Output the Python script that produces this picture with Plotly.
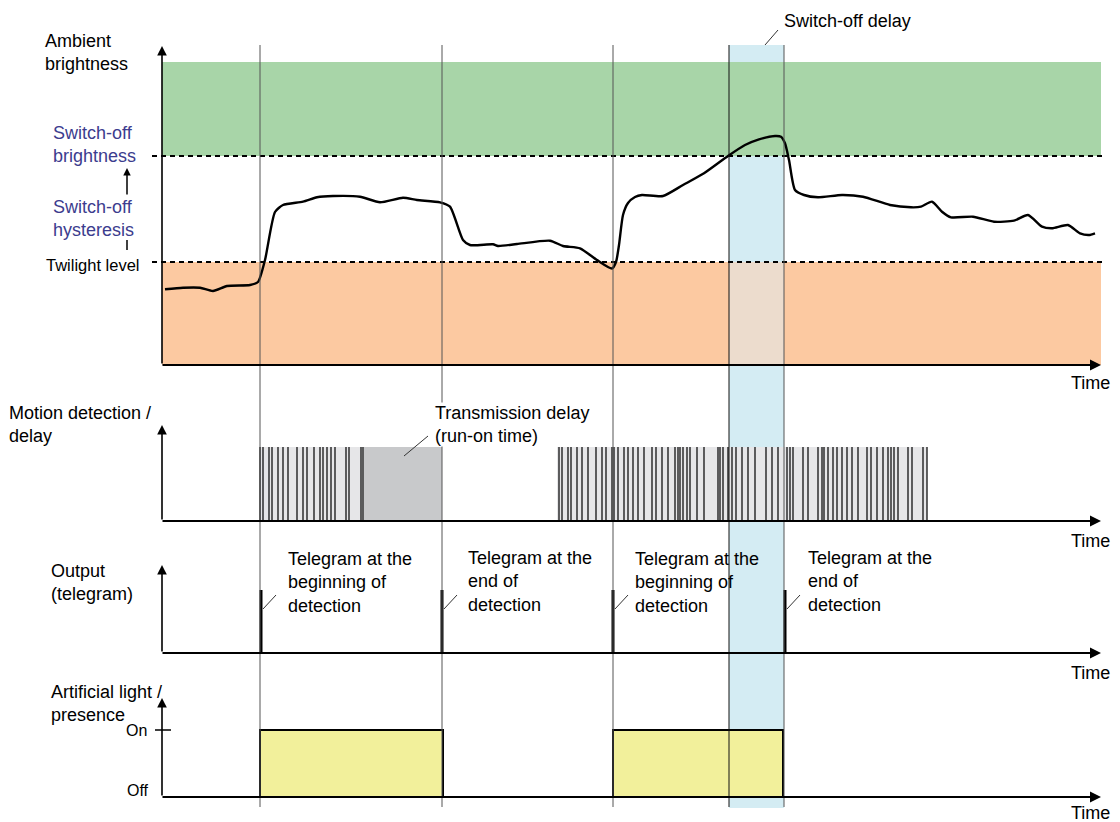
import plotly.graph_objects as go

W, H = 1120, 822
OFF = 8  # the page body adds an 8px margin
FONT = "Liberation Sans, Arial, sans-serif"
BLUE_TXT = "#3c3c8e"

# time units follow the horizontal scale of the diagram
event_times = [260, 442, 613, 729, 784]
delay_band = [729, 784]
time_end = 1101

# ambient brightness curve
brightness_t = [165, 183, 200, 213, 227, 250, 258, 265, 275, 283, 303, 317, 333, 360, 380,
                403, 417, 440, 450, 463, 470, 493, 498, 517, 550, 563, 580, 597, 612, 616,
                619, 623, 628, 635, 642, 663, 683, 704, 728, 745, 759, 775, 781, 785, 789,
                795, 804, 818, 842, 863, 890, 911, 921, 932, 942, 951, 973, 994, 1014, 1028,
                1042, 1052, 1068, 1080, 1089, 1095]
brightness_v = [75.7, 77.3, 77.3, 74, 79, 80, 83, 105, 153, 160, 163.3, 167.7, 169, 168.3, 162.7,
                167.3, 165, 162.7, 158.3, 125, 120, 120.7, 119, 121, 124.3, 119, 116.7, 105, 96.5, 103,
                120, 150, 162, 168, 170, 169, 180, 191.7, 209, 220, 225.7, 229, 228.3, 221.7, 205,
                175, 170, 167.7, 170, 168.3, 160, 157.7, 158.3, 163.3, 153.3, 147.7, 148.3, 143.3, 144.3, 150,
                138.3, 136.7, 140, 131.7, 130, 131.7]
twilight_level = 103
switch_off_level = 209
bright_top = 303

# motion detection
motion_blocks = [(260, 364), (557, 927)]
run_on = (364, 442)
motion_height = 74
motion_ticks = [260, 263, 269, 272, 278, 283, 288, 297, 303, 307, 314, 320, 323, 327, 331, 335,
                346, 349, 361, 363,
                559, 562, 568, 571, 577, 582, 588, 596, 602, 606, 612, 614, 618, 624, 628, 633,
                638, 644, 652, 656, 662, 668, 675, 678, 680, 683, 687, 690, 697, 704, 718, 720,
                723, 728, 732, 736, 742, 748, 755, 766, 772, 778, 787, 790, 793, 803, 808, 818,
                822, 824, 828, 833, 837, 842, 847, 852, 858, 867, 871, 877, 883, 888, 891, 894,
                898, 908, 912, 923, 927]

# telegrams
telegram_t = [261, 442, 613, 785]
telegram_height = 63
telegram_text = ["Telegram at the<br>beginning of<br>detection",
                 "Telegram at the<br>end of<br>detection",
                 "Telegram at the<br>beginning of<br>detection",
                 "Telegram at the<br>end of<br>detection"]

# artificial light
light_on = [(260, 443), (613, 783)]
on_level = 67


def px(x):
    return (x - OFF) / W


def py(y):
    return 1 - (y - OFF) / H


# panel layout: baseline pixel row, top and bottom of each y domain
panels = [(365, 8, 390), (521, 390, 545), (653, 545, 680), (797, 680, 830)]
ynames = ["y", "y2", "y3", "y4"]

fig = go.Figure()
layout = dict(width=W, height=H, margin=dict(l=0, r=0, t=0, b=0),
              plot_bgcolor="white", paper_bgcolor="white", showlegend=False,
              font=dict(family=FONT, size=18, color="black"),
              xaxis=dict(range=[OFF, W + OFF], domain=[0, 1], visible=False, fixedrange=True))
for i, (base, top, bot) in enumerate(panels):
    key = "yaxis" if i == 0 else f"yaxis{i+1}"
    layout[key] = dict(range=[base - bot, base - top], domain=[py(bot), py(top)],
                       visible=False, fixedrange=True)
fig.update_layout(**layout)

shapes = []
# brightness bands
shapes.append(dict(type="rect", xref="x", yref="y", x0=162, x1=time_end, y0=switch_off_level,
                   y1=bright_top, fillcolor="#a8d5a8", line_width=0, layer="below"))
shapes.append(dict(type="rect", xref="x", yref="y", x0=162, x1=time_end, y0=0,
                   y1=twilight_level, fillcolor="#fcc9a1", line_width=0, layer="below"))
# motion blocks
for a, b in motion_blocks:
    shapes.append(dict(type="rect", xref="x", yref="y2", x0=a, x1=b, y0=0, y1=motion_height,
                       fillcolor="#e6e6e8", line_width=0, layer="below"))
shapes.append(dict(type="rect", xref="x", yref="y2", x0=run_on[0], x1=run_on[1], y0=0,
                   y1=motion_height, fillcolor="#c8c9cb", line_width=0, layer="below"))
# switch-off delay band
shapes.append(dict(type="rect", xref="x", yref="paper", x0=delay_band[0], x1=delay_band[1],
                   y0=py(808), y1=py(45), fillcolor="rgba(183,223,235,0.6)", line_width=0,
                   layer="below"))
shapes.append(dict(type="rect", xref="x", yref="y", x0=delay_band[0], x1=delay_band[1], y0=0,
                   y1=twilight_level, fillcolor="#ecdccd", line_width=0, layer="below"))
# event lines
for t in event_times:
    shapes.append(dict(type="line", xref="x", yref="paper", x0=t, x1=t, y0=py(807), y1=py(45),
                       line=dict(color="#111" if t == 729 else "#555", width=1), layer="above"))
# leader lines
leaders = [(404, 456, 428, 436), (765, 45, 778, 30)]
for t in telegram_t:
    leaders.append((t + 2, 609, t + 15, 595))
for x0, y0, x1, y1 in leaders:
    shapes.append(dict(type="line", xref="paper", yref="paper", x0=px(x0), y0=py(y0),
                       x1=px(x1), y1=py(y1), line=dict(color="#333", width=1), layer="above"))
# hysteresis tick and On tick
shapes.append(dict(type="line", xref="paper", yref="paper", x0=px(127), x1=px(127),
                   y0=py(250), y1=py(240), line=dict(color="black", width=1.5)))
shapes.append(dict(type="line", xref="paper", yref="y4", x0=px(155), x1=px(171),
                   y0=on_level, y1=on_level, line=dict(color="black", width=1.5)))
fig.update_layout(shapes=shapes)

# brightness curve
fig.add_trace(go.Scatter(x=brightness_t, y=brightness_v, mode="lines", yaxis="y",
                         line=dict(color="black", width=2.4, shape="spline", smoothing=0.6)))
# threshold lines
for lv in [switch_off_level, twilight_level]:
    fig.add_trace(go.Scatter(x=[152, 1103], y=[lv, lv], mode="lines", yaxis="y",
                             line=dict(color="black", width=2.2, dash="5px,4px")))

# motion ticks
mx, my = [], []
for t in motion_ticks:
    mx += [t, t, None]
    my += [0, motion_height, None]
fig.add_trace(go.Scatter(x=mx, y=my, mode="lines", yaxis="y2",
                         line=dict(color="#111", width=1.3)))

# telegram pulses
tx, ty = [], []
for t in telegram_t:
    tx += [t, t, None]
    ty += [0, telegram_height, None]
fig.add_trace(go.Scatter(x=tx, y=ty, mode="lines", yaxis="y3",
                         line=dict(color="black", width=3)))

# light on boxes
for a, b in light_on:
    fig.add_trace(go.Scatter(x=[a, a, b, b, a], y=[0, on_level, on_level, 0, 0], mode="lines",
                             yaxis="y4", fill="toself", fillcolor="#f2f09b",
                             line=dict(color="black", width=2)))

ann = []
# axes with arrows
arrow_tops = [319, 96, 88, 99]
for i, yn in enumerate(ynames):
    ann.append(dict(x=162, y=arrow_tops[i], ax=162, ay=0, xref="x", yref=yn, axref="x",
                    ayref=yn, text="", showarrow=True, arrowhead=2, arrowsize=1.2,
                    arrowwidth=1.6, arrowcolor="black", standoff=0, startstandoff=0))
    ann.append(dict(x=time_end, y=0, ax=161, ay=0, xref="x", yref=yn, axref="x",
                    ayref=yn, text="", showarrow=True, arrowhead=2, arrowsize=1.1,
                    arrowwidth=2, arrowcolor="black", standoff=0, startstandoff=0))
# hysteresis arrow
ann.append(dict(x=px(127), y=py(168), ax=0, ay=28, xref="paper", yref="paper",
                text="", showarrow=True, arrowhead=2,
                arrowsize=1, arrowwidth=1.5, arrowcolor="black"))


def label(text, x, y, anchor="left", size=18, color="black", bg=None):
    d = dict(x=px(x), y=py(y), xref="paper", yref="paper", text=text, showarrow=False,
             xanchor=anchor, yanchor="middle", align=anchor if anchor != "center" else "center",
             font=dict(size=size, color=color, family=FONT), borderpad=0)
    if bg:
        d["bgcolor"] = bg
    ann.append(d)


label("Ambient<br>brightness", 44, 52)
label("Switch-off<br>brightness", 52, 145, color=BLUE_TXT)
label("Switch-off<br>hysteresis", 52, 218, color=BLUE_TXT)
label("Twilight level", 141, 265, anchor="right", size=16.5)
for yy in [383, 541, 673, 813]:
    label("Time", 1111, yy, anchor="right")
label("Switch-off delay", 783, 21)
label("Motion detection /<br>delay", 8, 424)
label("Transmission delay<br>(run-on time)", 434, 424, bg="white")
label("Output<br>(telegram)", 50, 582)
tel_x = [287, 467, 634, 807]
tel_y = [582, 581, 582, 581]
for t, x, y in zip(telegram_text, tel_x, tel_y):
    label(t, x, y)
label("Artificial light /<br>presence", 50, 703)
label("On", 148, 730, anchor="right", size=16)
label("Off", 150, 790, anchor="right", size=16)

fig.update_layout(annotations=ann)
fig.write_html("out.html")
